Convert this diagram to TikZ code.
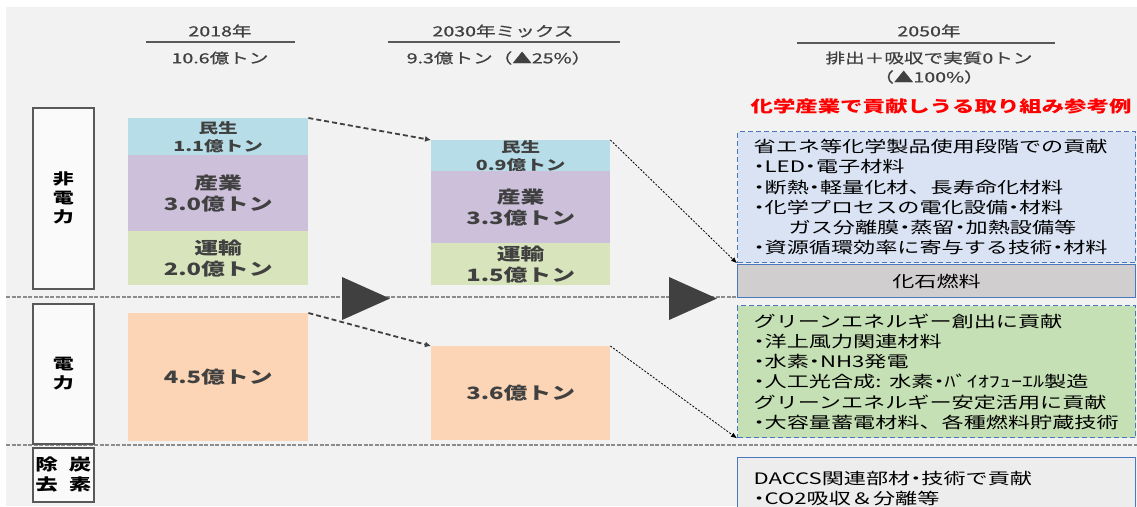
\documentclass[tikz,border=0pt]{standalone}
\usepackage{fontspec}
\setmainfont{Noto Sans CJK JP}[FakeStretch=1.4]
\usetikzlibrary{arrows.meta}

\definecolor{bg}{HTML}{F2F2F2}
\definecolor{kmin}{HTML}{B7DEE8}
\definecolor{sangyo}{HTML}{CCC0DA}
\definecolor{unyu}{HTML}{D8E4BC}
\definecolor{denryoku}{HTML}{FBD5B5}
\definecolor{ink}{HTML}{404040}
\definecolor{framegray}{HTML}{595959}
\definecolor{sepgray}{HTML}{8C8C8C}
\definecolor{saveblue}{HTML}{DAE3F3}
\definecolor{greenfill}{HTML}{C5E0B4}
\definecolor{fossil}{HTML}{D0CECE}
\definecolor{edgeblue}{HTML}{4A76BE}
\definecolor{daccsfill}{HTML}{EDEDED}
\definecolor{titlered}{HTML}{FF0000}

% narrow middle dot for the lists
\newcommand{\bul}{{\addfontfeatures{RawFeature=+palt}・}}

\tikzstyle{head}=[text=ink, inner sep=0, font=\fontsize{14}{17}\selectfont\addfontfeatures{FakeBold=0.8}]
\tikzstyle{rule}=[framegray, line width=1.8]
\tikzstyle{vlabel}=[draw=framegray, line width=1.6, fill=white!60!bg, minimum width=61, inner sep=0, align=center, font=\bfseries\fontsize{15}{19}\selectfont]
\tikzstyle{seg}=[minimum width=180, inner sep=0, align=center, text=ink, font=\bfseries\fontsize{17}{21}\selectfont]
\tikzstyle{small}=[font=\bfseries\fontsize{14}{18}\selectfont]
\tikzstyle{sep}=[sepgray, line width=1.6, dash pattern=on 4pt off 1.5pt]
\tikzstyle{arrow}=[ink, line width=1.8, dash pattern=on 5pt off 3pt, -{Latex[length=6pt,width=6pt]}]
\tikzstyle{thin}=[black, line width=0.8, dash pattern=on 2pt off 1.5pt, -{Latex[length=6pt,width=5pt]}]
\tikzstyle{tri}=[fill=ink]
\tikzstyle{panel}=[minimum width=398, anchor=north west, inner xsep=16, inner ysep=0, text width=366, align=left, font=\fontsize{15.8}{20.2}\selectfont]
\tikzstyle{dashedge}=[draw=edgeblue, line width=1.3, dash pattern=on 5pt off 3pt]
\tikzstyle{solidedge}=[draw=edgeblue, line width=1.1]

\begin{document}
\begin{tikzpicture}[x=1pt, y=-1pt]
      \useasboundingbox (0,0) rectangle (1137,506);
      \fill[bg] (0,0) rectangle (1137,506);
      \fill[white] (0,0) rectangle (1137,7);
      \fill[white] (0,0) rectangle (6,506);

      % headers
      \node[head] (y18) at (220,31) {2018年};
      \draw[rule] (146,42) -- (295,42);
      \node[head] (t18) at (220,58) {10.6億トン};
      \node[head] (y30) at (503,31) {2030年ミックス};
      \draw[rule] (388,42) -- (620,42);
      \node[head] (t30) at (499,58) {9.3億トン（▲25\%）};
      \node[head] (y50) at (929,31) {2050年};
      \draw[rule] (797,43) -- (1055,43);
      \node[head] (t50) at (929,58) {排出＋吸収で実質0トン};
      \node[head] (p50) at (929,77) {（▲100\%）};
      \node[text=titlered, font=\bfseries\fontsize{16}{19}\selectfont] (ref) at (941,106) {化学産業で貢献しうる取り組み参考例};

      % separators
      \draw[sep] (6,297) -- (737,297);
      \draw[sep] (6,445) -- (1137,445);

      % row labels
      \node[vlabel, minimum height=181, anchor=north west] (nonpw) at (32,107) {非\\電\\力};
      \node[vlabel, minimum height=140, anchor=north west] (pwlab) at (32,303) {電\\力};
      \node[vlabel, minimum height=54, anchor=north west, font=\bfseries\fontsize{16}{20}\selectfont] (cdr) at (32,447) {除\hspace{11pt}炭\\去\hspace{11pt}素};

      % 2018
      \node[seg, small, fill=kmin, minimum height=37, anchor=north west] (kmin18) at (128,118) {民生\\1.1億トン};
      \node[seg, fill=sangyo, minimum height=76, anchor=north west] (sangyo18) at (128,155) {産業\\3.0億トン};
      \node[seg, fill=unyu, minimum height=54, anchor=north west] (unyu18) at (128,231) {運輸\\2.0億トン};
      \node[seg, fill=denryoku, minimum height=128, anchor=north west] (pw18) at (128,313) {4.5億トン};

      % 2030
      \node[seg, small, fill=kmin, minimum width=179, minimum height=31, anchor=north west] (kmin30) at (431,140) {民生\\0.9億トン};
      \node[seg, fill=sangyo, minimum width=179, minimum height=72, anchor=north west] (sangyo30) at (431,171) {産業\\3.3億トン};
      \node[seg, fill=unyu, minimum width=179, minimum height=42, anchor=north west] (unyu30) at (431,243) {運輸\\1.5億トン};
      \node[seg, fill=denryoku, minimum width=179, minimum height=94, anchor=north west] (pw30) at (431,346) {3.6億トン};

      \fill[tri] (342,277) -- (390,298.5) -- (342,320) -- cycle;
      \fill[tri] (669,277) -- (717,298.5) -- (669,320) -- cycle;

      % 2050
      \node[panel, dashedge, fill=saveblue, minimum height=131] (save) at (737,131) {省エネ等化学製品使用段階での貢献\\\bul LED\bul 電子材料\\\bul 断熱\bul 軽量化材、長寿命化材料\\\bul 化学プロセスの電化設備\bul 材料\\\hspace*{35pt}ガス分離膜\bul 蒸留\bul 加熱設備等\\\bul 資源循環効率に寄与する技術\bul 材料};
      \node[panel, solidedge, fill=fossil, minimum height=33, align=center] (fossil) at (737,264) {化石燃料};
      \node[panel, dashedge, fill=greenfill, minimum height=132] (green) at (737,305) {グリーンエネルギー創出に貢献\\\bul 洋上風力関連材料\\\bul 水素\bul NH3発電\\\bul 人工光合成: 水素\bul ﾊﾞｲｵﾌｭｰｴﾙ製造\\グリーンエネルギー安定活用に貢献\\\bul 大容量蓄電材料、各種燃料貯蔵技術};
      \node[panel, solidedge, fill=daccsfill, minimum height=62] (daccs) at (737,457) {DACCS関連部材\bul 技術で貢献\\\bul CO2吸収＆分離等};

      \draw[arrow] (kmin18.north east) -- (kmin30.north west);
      \draw[arrow] (pw18.north east) -- (pw30.north west);
      \draw[thin] (kmin30.north east) -- (save.south west);
      \draw[thin] (pw30.north east) -- (green.south west);
    \end{tikzpicture}
\end{document}
